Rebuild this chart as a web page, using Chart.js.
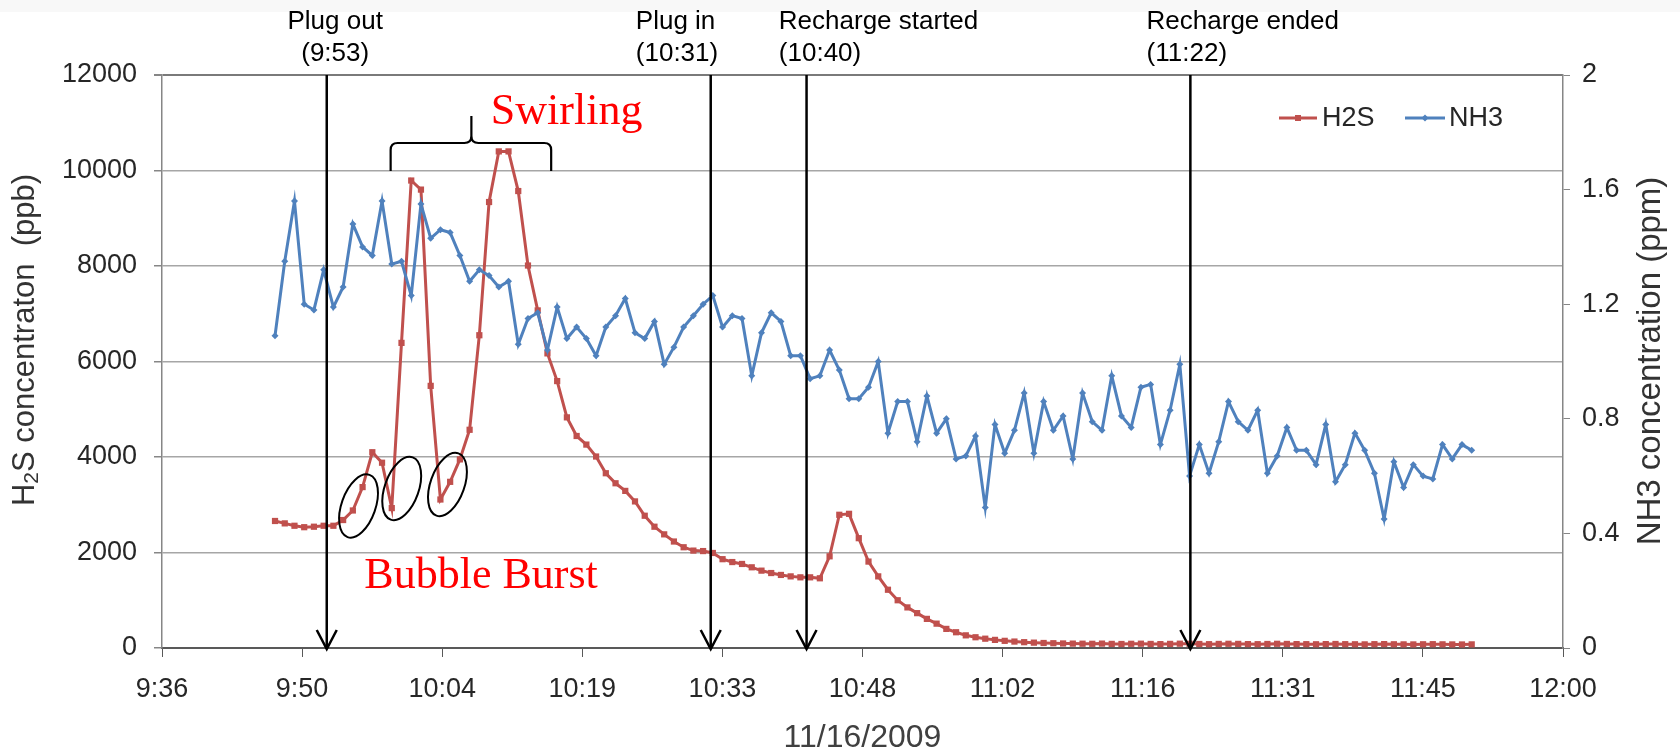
<!DOCTYPE html>
<html>
<head>
<meta charset="utf-8">
<script src="https://cdn.jsdelivr.net/npm/chart.js@4.4.1/dist/chart.umd.min.js"></script>
<style>
html,body{margin:0;padding:0;background:#fff;}
#wrap{width:1680px;height:752px;position:relative;}
</style>
</head>
<body>
<div id="wrap"><canvas id="c"></canvas></div>
<script>
// sample times (logger, one reading per minute)
const times = [
  '9:47:37','9:48:37','9:49:37','9:50:37','9:51:37','9:52:37','9:53:37','9:54:37','9:55:37','9:56:37',
  '9:57:37','9:58:37','9:59:37','10:00:37','10:01:37','10:02:37','10:03:37','10:04:37','10:05:37','10:06:37',
  '10:07:37','10:08:37','10:09:37','10:10:37','10:11:37','10:12:37','10:13:37','10:14:37','10:15:37','10:16:37',
  '10:17:37','10:18:37','10:19:37','10:20:37','10:21:37','10:22:37','10:23:37','10:24:37','10:25:37','10:26:37',
  '10:27:37','10:28:37','10:29:37','10:30:37','10:31:37','10:32:37','10:33:37','10:34:37','10:35:37','10:36:37',
  '10:37:37','10:38:37','10:39:37','10:40:37','10:41:37','10:42:37','10:43:37','10:44:37','10:45:37','10:46:37',
  '10:47:37','10:48:37','10:49:37','10:50:37','10:51:37','10:52:37','10:53:37','10:54:37','10:55:37','10:56:37',
  '10:57:37','10:58:37','10:59:37','11:00:37','11:01:37','11:02:37','11:03:37','11:04:37','11:05:37','11:06:37',
  '11:07:37','11:08:37','11:09:37','11:10:37','11:11:37','11:12:37','11:13:37','11:14:37','11:15:37','11:16:37',
  '11:17:37','11:18:37','11:19:37','11:20:37','11:21:37','11:22:37','11:23:37','11:24:37','11:25:37','11:26:37',
  '11:27:37','11:28:37','11:29:37','11:30:37','11:31:37','11:32:37','11:33:37','11:34:37','11:35:37','11:36:37',
  '11:37:37','11:38:37','11:39:37','11:40:37','11:41:37','11:42:37','11:43:37','11:44:37','11:45:37','11:46:37',
  '11:47:37','11:48:37','11:49:37','11:50:37'
];
// H2S, ppb (left axis)
const h2s = [
  2660,2610,2560,2530,2540,2560,2560,2680,2880,3370,
  4100,3880,2930,6390,9790,9600,5490,3110,3480,3950,
  4570,6550,9340,10400,10400,9570,8010,7070,6170,5590,
  4830,4440,4260,4010,3660,3450,3290,3070,2770,2540,
  2380,2230,2110,2040,2030,1990,1860,1800,1760,1690,
  1620,1570,1530,1500,1480,1480,1460,1920,2790,2810,
  2300,1810,1500,1220,1000,850,730,610,510,400,
  330,265,225,195,170,150,135,122,112,105,
  100,95,92,90,88,92,86,84,88,90,
  85,82,86,90,88,84,80,85,88,86,
  82,80,84,88,85,82,80,78,82,84,
  80,78,76,80,82,78,76,75,78,80,
  77,75,74,76
];
// NH3, ppm (right axis)
const nh3 = [
  1.09,1.35,1.56,1.20,1.18,1.32,1.19,1.26,1.48,1.40,
  1.37,1.56,1.34,1.35,1.23,1.55,1.43,1.46,1.45,1.37,
  1.28,1.32,1.30,1.26,1.28,1.06,1.15,1.17,1.04,1.19,
  1.08,1.12,1.08,1.02,1.12,1.16,1.22,1.10,1.08,1.14,
  0.99,1.05,1.12,1.16,1.20,1.23,1.12,1.16,1.15,0.95,
  1.10,1.17,1.14,1.02,1.02,0.94,0.95,1.04,0.97,0.87,
  0.87,0.91,1.00,0.75,0.86,0.86,0.72,0.88,0.75,0.80,
  0.66,0.67,0.74,0.49,0.78,0.68,0.76,0.89,0.68,0.86,
  0.76,0.81,0.66,0.89,0.79,0.76,0.95,0.81,0.77,0.91,
  0.92,0.71,0.83,0.99,0.60,0.71,0.61,0.72,0.86,0.79,
  0.76,0.83,0.61,0.67,0.77,0.69,0.69,0.64,0.78,0.58,
  0.64,0.75,0.69,0.61,0.45,0.65,0.56,0.64,0.60,0.59,
  0.71,0.66,0.71,0.69
];
const xTickLabels = ['9:36','9:50','10:04','10:19','10:33','10:48','11:02','11:16','11:31','11:45','12:00'];
const yTickLabels = ['0','2000','4000','6000','8000','10000','12000'];
const y1TickLabels = ['0','0.4','0.8','1.2','1.6','2'];
const seriesNames = ['H2S','NH3'];
// events marked with arrows: label, stamp shown, where the arrow was drawn
const events = [
  {name:'Plug out',         stamp:'(9:53)',  at:'9:52:56'},
  {name:'Plug in',          stamp:'(10:31)', at:'10:32:24'},
  {name:'Recharge started', stamp:'(10:40)', at:'10:42:15'},
  {name:'Recharge ended',   stamp:'(11:22)', at:'11:21:42'}
];

const toMin = s => { const p = s.split(':').map(Number); return p[0]*60 + p[1] + (p[2]||0)/60; };

const C = {red:'#C0504D', blue:'#4F81BD', text:'#262626', grid:'#a6a6a6', axis:'#868686'};
const SANS = "'Liberation Sans', Arial, sans-serif";
const SERIF = "'Liberation Serif', 'Times New Roman', serif";
Chart.defaults.font.family = SANS;

// annotation placement, in axis units (minutes of day / ppb)
const ANN = {
  eventText:[{x:593.8,align:'center'},{x:624.7,align:'left'},{x:639.4,align:'left'},{x:677.2,align:'left'}],
  brace:{x0:599.5, x1:616.0, xm:607.8, yTip:9990, yBar:10576, yPeak:11141},
  ellipses:[[596.2,2974],[600.64,3340],[605.34,3424]],
  swirling:{x:609.8, y:10974},
  bubble:{x:596.8, y:1257}
};

const annotations = {
  id:'annotations',
  beforeDraw(chart){
    const ctx = chart.ctx;
    ctx.save();
    ctx.fillStyle = '#f8f8f8';
    ctx.fillRect(0,0,chart.width,12);
    ctx.restore();
  },
  afterDatasetsDraw(chart){
    const {ctx, chartArea:a, scales:{x:sx, y:sy}} = chart;
    const X = v => sx.getPixelForValue(v), Y = v => sy.getPixelForValue(v);
    ctx.save();
    // arrows
    ctx.strokeStyle = '#000'; ctx.lineWidth = 2.5; ctx.lineJoin = 'miter';
    events.forEach(e => {
      const x = X(toMin(e.at));
      ctx.beginPath(); ctx.moveTo(x, a.top); ctx.lineTo(x, a.bottom + 1); ctx.stroke();
      ctx.beginPath(); ctx.moveTo(x - 10, a.bottom - 18); ctx.lineTo(x, a.bottom + 1); ctx.lineTo(x + 10, a.bottom - 18); ctx.stroke();
    });
    // event labels
    ctx.fillStyle = '#000'; ctx.font = '26px ' + SANS; ctx.textBaseline = 'alphabetic';
    events.forEach((e, i) => {
      const t = ANN.eventText[i];
      ctx.textAlign = t.align;
      ctx.fillText(e.name, X(t.x), 29);
      ctx.fillText(e.stamp, X(t.x), 61);
    });
    // brace
    const b = ANN.brace;
    const xl = X(b.x0), xr = X(b.x1), xm = X(b.xm), yt = Y(b.yTip), yb = Y(b.yBar), yp = Y(b.yPeak);
    ctx.lineWidth = 2.2;
    ctx.beginPath();
    ctx.moveTo(xl, yt); ctx.lineTo(xl, yb + 7); ctx.quadraticCurveTo(xl, yb, xl + 7, yb);
    ctx.lineTo(xm - 7, yb); ctx.quadraticCurveTo(xm, yb, xm, yb - 7); ctx.lineTo(xm, yp);
    ctx.moveTo(xm, yb - 7); ctx.quadraticCurveTo(xm, yb, xm + 7, yb);
    ctx.lineTo(xr - 7, yb); ctx.quadraticCurveTo(xr, yb, xr, yb + 7); ctx.lineTo(xr, yt);
    ctx.stroke();
    // ellipses round the bubble bursts
    ctx.lineWidth = 2;
    ANN.ellipses.forEach(([t, v]) => {
      ctx.beginPath(); ctx.ellipse(X(t), Y(v), 17, 33, 0.34, 0, Math.PI*2); ctx.stroke();
    });
    // red notes
    ctx.fillStyle = '#ff0000'; ctx.font = '44px ' + SERIF; ctx.textAlign = 'left';
    ctx.fillText('Swirling', X(ANN.swirling.x), Y(ANN.swirling.y));
    ctx.fillText('Bubble Burst', X(ANN.bubble.x), Y(ANN.bubble.y));
    // legend
    const ly = 118;
    [[1279, 1317, 1322, C.red, 'rect'], [1405, 1445, 1449, C.blue, 'rectRot']].forEach(([x0, x1, tx, col, shape], i) => {
      ctx.strokeStyle = col; ctx.lineWidth = 3;
      ctx.beginPath(); ctx.moveTo(x0, ly); ctx.lineTo(x1, ly); ctx.stroke();
      ctx.fillStyle = col;
      const mx = (x0 + x1) / 2;
      if (shape === 'rect') ctx.fillRect(mx - 3, ly - 3, 6, 6);
      else { ctx.beginPath(); ctx.moveTo(mx, ly - 3.5); ctx.lineTo(mx + 3.5, ly); ctx.lineTo(mx, ly + 3.5); ctx.lineTo(mx - 3.5, ly); ctx.fill(); }
      ctx.fillStyle = C.text; ctx.font = '27px ' + SANS; ctx.textBaseline = 'middle';
      ctx.fillText(seriesNames[i], tx, ly + 1);
    });
    // axis titles
    ctx.fillStyle = '#333';
    ctx.textBaseline = 'middle'; ctx.textAlign = 'left';
    // left: H2S with subscript
    ctx.save();
    ctx.translate(25, 340); ctx.rotate(-Math.PI/2);
    const big = '31px ' + SANS, small = '21px ' + SANS;
    const parts = [['H', big, 0], ['2', small, 7], ['S concentraton  (ppb)', big, 0]];
    let total = 0;
    parts.forEach(p => { ctx.font = p[1]; total += ctx.measureText(p[0]).width; });
    let cx = -total / 2;
    parts.forEach(p => { ctx.font = p[1]; ctx.fillText(p[0], cx, p[2]); cx += ctx.measureText(p[0]).width; });
    ctx.restore();
    // right
    ctx.save();
    ctx.translate(1651, 361); ctx.rotate(-Math.PI/2);
    ctx.font = '33px ' + SANS; ctx.textAlign = 'center';
    ctx.fillText('NH3 concentration (ppm)', 0, 0);
    ctx.restore();
    // bottom
    ctx.fillStyle = '#404040';
    ctx.font = '32px ' + SANS; ctx.textAlign = 'center';
    ctx.fillText('11/16/2009', (a.left + a.right) / 2, 738);
    ctx.restore();
  }
};

new Chart(document.getElementById('c'), {
  type:'line',
  data:{datasets:[
    {label:seriesNames[0], data:times.map((t,i)=>({x:toMin(t), y:h2s[i]})), yAxisID:'y', order:1,
     borderColor:C.red, backgroundColor:C.red, borderWidth:3, tension:0,
     pointStyle:'rect', pointRadius:4.4, pointBorderWidth:0, pointBackgroundColor:C.red},
    {label:seriesNames[1], data:times.map((t,i)=>({x:toMin(t), y:nh3[i]})), yAxisID:'y1', order:0,
     borderColor:C.blue, backgroundColor:C.blue, borderWidth:3, tension:0,
     pointStyle:'rectRot', pointRadius:3.5, pointBorderWidth:0, pointBackgroundColor:C.blue}
  ]},
  options:{
    responsive:true, maintainAspectRatio:false, animation:false, events:[],
    layout:{padding:{top:75, left:0, right:0, bottom:0}},
    plugins:{legend:{display:false}, tooltip:{enabled:false}},
    scales:{
      x:{type:'linear', min:toMin('9:36'), max:toMin('12:00'),
         afterFit:s=>{ s.height = 104; },
         grid:{drawOnChartArea:false, drawTicks:true, tickLength:9, tickColor:'#595959'},
         border:{display:true, color:'#595959', width:2},
         ticks:{stepSize:14.4, autoSkip:false, maxRotation:0, padding:16, color:C.text, font:{size:27},
                callback:(v,i)=>xTickLabels[i]}},
      y:{position:'left', min:0, max:12000,
         afterFit:s=>{ s.width = 162; },
         grid:{color:c=>c.tick && c.tick.value===12000 ? '#7a7a7a' : C.grid, lineWidth:c=>c.tick && c.tick.value===12000 ? 2 : 1.5,
               drawTicks:true, tickLength:8, tickColor:C.axis},
         border:{display:true, color:C.axis, width:1.5},
         ticks:{stepSize:2000, padding:17, color:C.text, font:{size:27}, callback:(v,i)=>yTickLabels[i]}},
      y1:{position:'right', min:0, max:2,
         afterFit:s=>{ s.width = 117; },
         grid:{drawOnChartArea:false, drawTicks:true, tickLength:7, tickColor:C.axis},
         border:{display:true, color:C.axis, width:1.5},
         ticks:{stepSize:0.4, padding:12, color:C.text, font:{size:27}, callback:(v,i)=>y1TickLabels[i]}}
    }
  },
  plugins:[annotations]
});
</script>
</body>
</html>
